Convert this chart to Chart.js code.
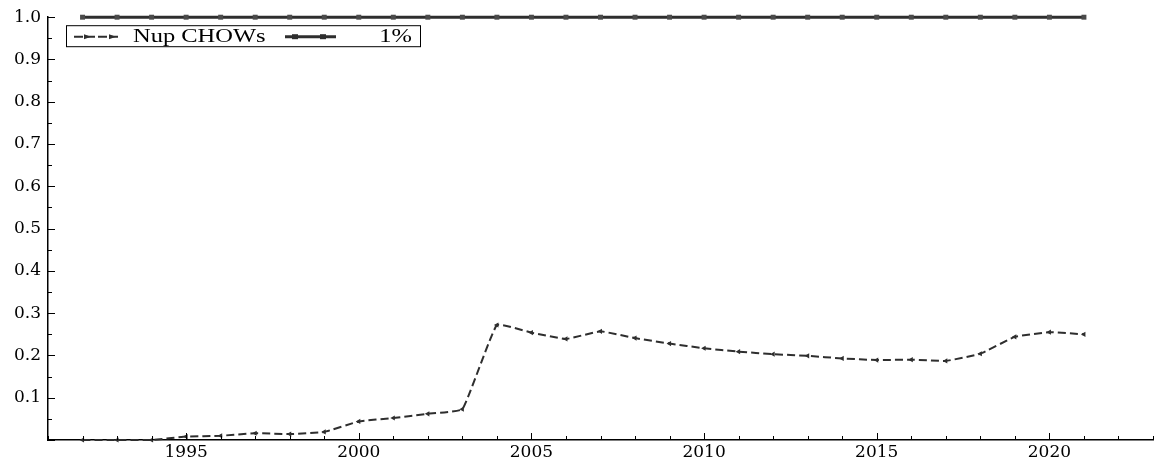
<!DOCTYPE html>
<html>
<head>
<meta charset="utf-8">
<script src="https://cdn.jsdelivr.net/npm/chart.js@4"></script>
<style>
  html, body { margin: 0; padding: 0; background: #fff; }
  #wrap { width: 1157px; height: 461px; }
</style>
</head>
<body>
<div id="wrap"><canvas id="chow"></canvas></div>
<script>
const years = [1992, 1993, 1994, 1995, 1996, 1997, 1998, 1999, 2000, 2001,
  2002, 2003, 2004, 2005, 2006, 2007, 2008, 2009, 2010, 2011,
  2012, 2013, 2014, 2015, 2016, 2017, 2018, 2019, 2020, 2021];
const nupChows = [0.000, 0.000, 0.000, 0.008, 0.010, 0.016, 0.014, 0.019, 0.044, 0.052,
  0.062, 0.073, 0.272, 0.254, 0.239, 0.257, 0.241, 0.228, 0.217, 0.209,
  0.203, 0.199, 0.193, 0.189, 0.190, 0.187, 0.204, 0.244, 0.255, 0.250];
const onePct = [1, 1, 1, 1, 1, 1, 1, 1, 1, 1,
  1, 1, 1, 1, 1, 1, 1, 1, 1, 1,
  1, 1, 1, 1, 1, 1, 1, 1, 1, 1];
const seriesNames = ['Nup CHOWs', '1%'];

const ink = '#2e2e2e';

// ticks drawn inside the plot, like the original
const innerTicks = {
  id: 'innerTicks',
  afterDraw(chart) {
    const ctx = chart.ctx;
    const xs = chart.scales.x, ys = chart.scales.y;
    ctx.save();
    ctx.strokeStyle = '#000';
    ctx.lineWidth = 1;
    xs.ticks.forEach(t => {
      const px = Math.round(xs.getPixelForValue(t.value)) + 0.5;
      const len = t.value % 5 === 0 ? 7 : 4;
      ctx.beginPath();
      ctx.moveTo(px, ys.bottom);
      ctx.lineTo(px, ys.bottom - len);
      ctx.stroke();
    });
    ys.ticks.forEach(t => {
      const py = Math.round(ys.getPixelForValue(t.value)) + 0.5;
      const major = Math.round(t.value * 100) % 10 === 0;
      ctx.beginPath();
      ctx.moveTo(xs.left, py);
      ctx.lineTo(xs.left + (major ? 7 : 4), py);
      ctx.stroke();
    });
    ctx.restore();
  }
};

// boxed legend in the top-left corner of the plot
const boxLegend = {
  id: 'boxLegend',
  afterDraw(chart) {
    const ctx = chart.ctx;
    const a = chart.chartArea;
    const x0 = a.left + 18, y0 = a.top + 8;
    const w = 354, h = 21, cy = y0 + h / 2;
    ctx.save();
    ctx.strokeStyle = '#000';
    ctx.lineWidth = 1;
    ctx.strokeRect(x0 + 0.5, y0 + 0.5, w, h);

    // Nup CHOWs sample
    ctx.strokeStyle = ink;
    ctx.lineWidth = 2;
    ctx.setLineDash([9, 3]);
    ctx.beginPath();
    ctx.moveTo(x0 + 8, cy + 1);
    ctx.lineTo(x0 + 52, cy + 1);
    ctx.stroke();
    ctx.setLineDash([]);
    ctx.fillStyle = ink;
    [x0 + 22, x0 + 47].forEach(px => {
      ctx.beginPath();
      ctx.moveTo(px - 4, cy - 1.5);
      ctx.lineTo(px + 3, cy + 1);
      ctx.lineTo(px - 4, cy + 3.5);
      ctx.closePath();
      ctx.fill();
    });

    // 1% sample
    ctx.lineWidth = 3;
    ctx.beginPath();
    ctx.moveTo(x0 + 219, cy + 1);
    ctx.lineTo(x0 + 270, cy + 1);
    ctx.stroke();
    [x0 + 229, x0 + 257].forEach(px => {
      ctx.fillRect(px - 3, cy - 1.5, 6, 5);
    });

    ctx.fillStyle = '#000';
    ctx.font = '18px "Liberation Serif"';
    ctx.textBaseline = 'alphabetic';
    ctx.save();
    ctx.translate(x0 + 67, y0 + 17);
    ctx.scale(1.36, 1);
    ctx.fillText(seriesNames[0], 0, 0);
    ctx.restore();
    ctx.save();
    ctx.translate(x0 + 346, y0 + 17);
    ctx.scale(1.36, 1);
    ctx.textAlign = 'right';
    ctx.fillText(seriesNames[1], 0, 0);
    ctx.restore();
    ctx.restore();
  }
};

const ctx = document.getElementById('chow');
new Chart(ctx, {
  type: 'line',
  data: {
    datasets: [{
      label: seriesNames[0],
      data: years.map((y, i) => ({ x: y, y: nupChows[i] })),
      borderColor: ink,
      backgroundColor: ink,
      borderWidth: 2,
      borderDash: [8, 4],
      tension: 0.1,
      pointStyle: 'triangle',
      rotation: 270,
      pointRadius: 3,
      pointBorderWidth: 0,
      clip: false
    }, {
      label: seriesNames[1],
      data: years.map((y, i) => ({ x: y, y: onePct[i] })),
      borderColor: ink,
      backgroundColor: '#4a4a4a',
      borderWidth: 3,
      pointStyle: 'rect',
      pointRadius: 3.5,
      pointBorderWidth: 0,
      clip: false
    }]
  },
  options: {
    responsive: true,
    maintainAspectRatio: false,
    animation: false,
    layout: { padding: { top: 12, right: 0, left: 0, bottom: 0 } },
    scales: {
      x: {
        type: 'linear',
        min: 1991,
        max: 2023,
        grid: { display: false, drawTicks: false },
        border: { display: true, color: '#000', width: 1.5 },
        ticks: {
          stepSize: 1,
          autoSkip: false,
          maxRotation: 0,
          padding: 2,
          color: '#000',
          font: { family: 'DejaVu Serif', size: 17 },
          callback: v => (v % 5 === 0 ? String(v) : '')
        },
        afterFit: s => { s.height = 21; }
      },
      y: {
        min: 0,
        max: 1,
        grid: { display: false, drawTicks: false },
        border: { display: true, color: '#000', width: 1.5 },
        ticks: {
          stepSize: 0.05,
          autoSkip: false,
          padding: 7,
          color: '#000',
          font: { family: 'DejaVu Serif', size: 17 },
          callback: v => {
            const k = Math.round(v * 100);
            return k > 0 && k % 10 === 0 ? (k / 100).toFixed(1) : '';
          }
        },
        afterFit: s => { s.width = 48; }
      }
    },
    plugins: {
      legend: { display: false },
      tooltip: { enabled: false }
    }
  },
  plugins: [innerTicks, boxLegend]
});
</script>
</body>
</html>
